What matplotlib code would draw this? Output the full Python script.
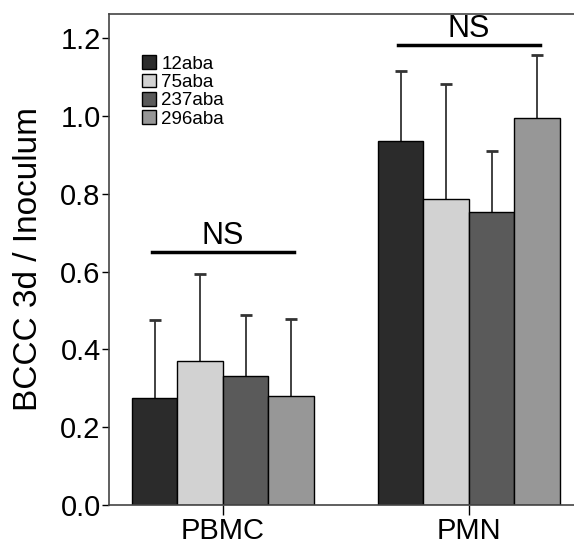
import numpy as np
import matplotlib.pyplot as plt

plt.rcParams["font.family"] = ["Liberation Sans", "DejaVu Sans"]

groups = ["PBMC", "PMN"]
strains = ["12aba", "75aba", "237aba", "296aba"]
means = {
    "12aba": [0.275, 0.936],
    "75aba": [0.370, 0.787],
    "237aba": [0.332, 0.753],
    "296aba": [0.280, 0.995],
}
err_top = {
    "12aba": [0.476, 1.116],
    "75aba": [0.594, 1.082],
    "237aba": [0.488, 0.910],
    "296aba": [0.478, 1.157],
}
colors = ["#2b2b2b", "#d2d2d2", "#5a5a5a", "#979797"]

fig = plt.figure(figsize=(5.74, 5.47), dpi=100)
ax = fig.add_axes([0.19, 0.0768, 0.81, 0.8976])

x = np.arange(len(groups))
width = 0.185
for i, s in enumerate(strains):
    pos = x + (i - 1.5) * width
    m = np.array(means[s])
    top = np.array(err_top[s])
    ax.bar(pos, m, width, color=colors[i], edgecolor="black", linewidth=1,
           label=s, zorder=2)
    # only the upper half of the error bar
    ax.vlines(pos, m, top, color="#333333", lw=1.3, zorder=1)
    ax.plot(pos, top, ls="none", marker="_", ms=9, mew=2, color="#333333", zorder=1)

# NS bars
ns_y = [0.650, 1.183]
for xi, yv in zip(x, ns_y):
    ax.plot([xi - 0.29, xi + 0.29], [yv, yv], color="black", lw=2.5)
    ax.text(xi, yv + 0.002, "NS", ha="center", va="bottom", fontsize=22)

ax.set_xlim(-0.463, 1.427)
ax.set_ylim(0, 1.262)
ax.set_yticks([0.0, 0.2, 0.4, 0.6, 0.8, 1.0, 1.2])
ax.set_yticklabels(["0.0", "0.2", "0.4", "0.6", "0.8", "1.0", "1.2"])
ax.set_xticks(x)
ax.set_xticklabels(groups)
ax.tick_params(axis="y", labelsize=21, length=5, width=1, pad=1)
ax.tick_params(axis="x", labelsize=21, length=7, width=1, pad=2)
ax.set_ylabel("BCCC 3d / Inoculum", fontsize=24, labelpad=12)

ax.spines["right"].set_visible(False)
for sp in ["left", "top", "bottom"]:
    ax.spines[sp].set_color("#444444")
    ax.spines[sp].set_linewidth(1.2)

ax.legend(loc="upper left", bbox_to_anchor=(0.05, 0.935), frameon=False,
          fontsize=13.5, handlelength=0.75, handleheight=0.75, handletextpad=0.3,
          labelspacing=0.05, borderpad=0)

fig.savefig("out.png", dpi=100)
